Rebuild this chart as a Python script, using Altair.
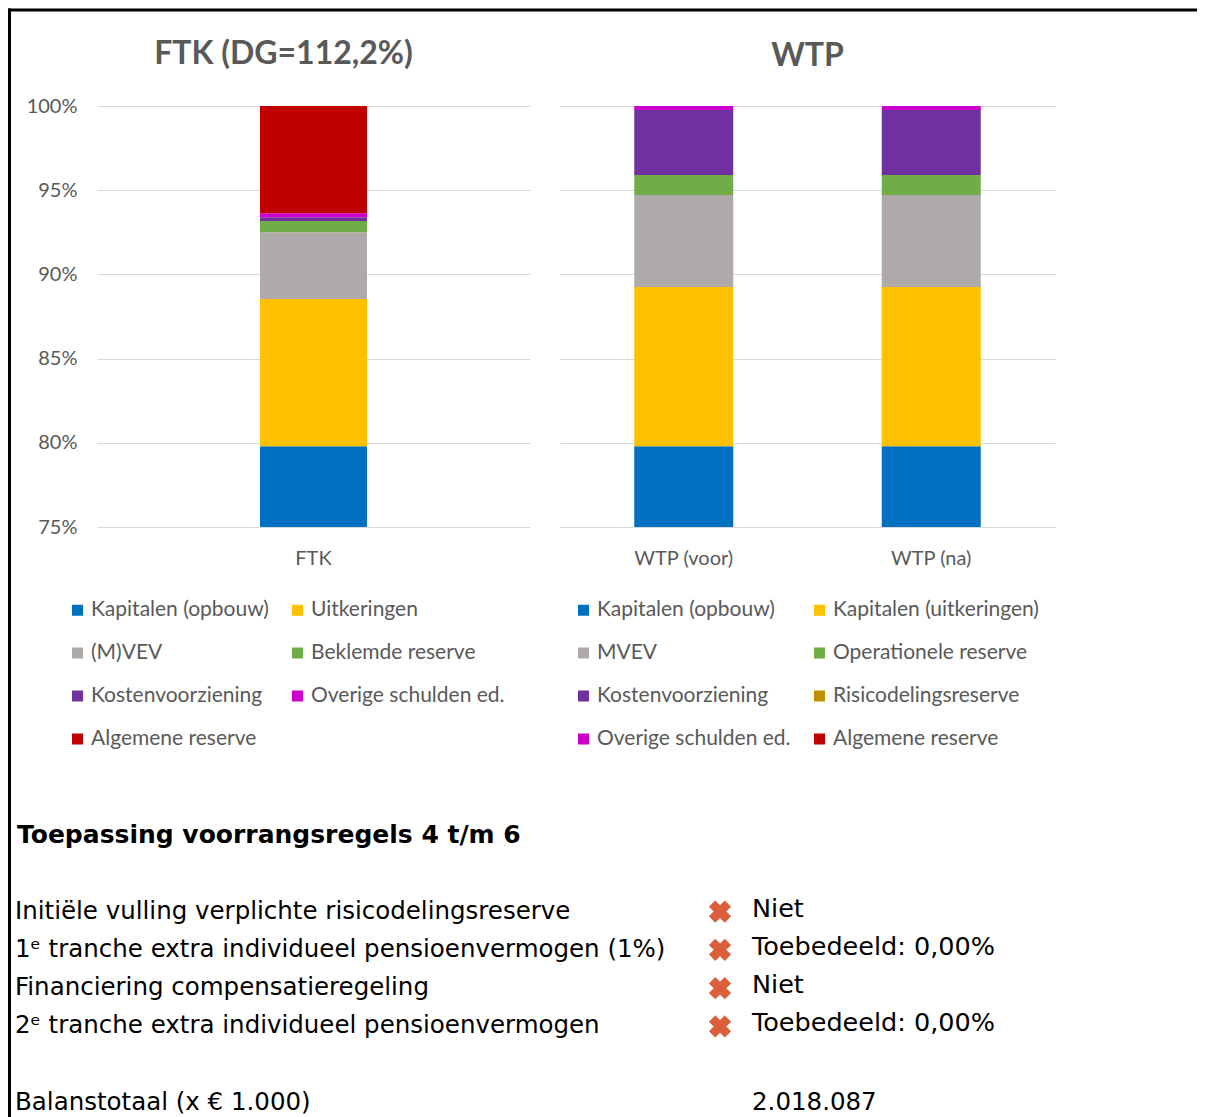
import altair as alt
import pandas as pd

# ---------------- data ----------------
ftk_categories = ["Kapitalen (opbouw)", "Uitkeringen", "(M)VEV", "Beklemde reserve",
                  "Kostenvoorziening", "Overige schulden ed.", "Algemene reserve"]
ftk_values = [79.8, 8.74, 3.96, 0.67, 0.22, 0.24, 6.37]
ftk_colors = ["#0070C0", "#FFC000", "#AEAAAA", "#70AD47", "#7030A0", "#CC00CC", "#C00000"]

wtp_categories = ["Kapitalen (opbouw)", "Kapitalen (uitkeringen)", "MVEV", "Operationele reserve",
                  "Kostenvoorziening", "Risicodelingsreserve", "Overige schulden ed.", "Algemene reserve"]
wtp_voor_values = [79.8, 9.45, 5.46, 1.19, 3.86, 0.0, 0.24, 0.0]
wtp_na_values = [79.8, 9.45, 5.46, 1.19, 3.86, 0.0, 0.24, 0.0]
wtp_colors = ["#0070C0", "#FFC000", "#AEAAAA", "#70AD47", "#7030A0", "#BF9000", "#CC00CC", "#C00000"]

ftk_bars = ["FTK"]
wtp_bars = ["WTP (voor)", "WTP (na)"]
y_ticks = [75, 80, 85, 90, 95, 100]

heading = "Toepassing voorrangsregels 4 t/m 6"
rule_labels = ["Initiële vulling verplichte risicodelingsreserve",
               "1ᵉ tranche extra individueel pensioenvermogen (1%)",
               "Financiering compensatieregeling",
               "2ᵉ tranche extra individueel pensioenvermogen"]
rule_status = ["Niet", "Toebedeeld: 0,00%", "Niet", "Toebedeeld: 0,00%"]
total_label = "Balanstotaal (x € 1.000)"
total_value = "2.018.087"

# ---------------- tables ----------------
ftk_df = pd.DataFrame({"bar": "FTK", "cat": ftk_categories, "value": ftk_values,
                       "idx": list(range(len(ftk_categories)))})
wtp_rows = []
for bar, vals in zip(wtp_bars, [wtp_voor_values, wtp_na_values]):
    for i, (c, v) in enumerate(zip(wtp_categories, vals)):
        wtp_rows.append({"bar": bar, "cat": c, "value": v, "idx": i})
wtp_df = pd.DataFrame(wtp_rows)

GRID = "#D9D9D9"
LABEL = "#595959"
FONT = "Lato"
TFONT = "DejaVu Sans"
TSIZE = 24.5


def panel(df, cats, colors, bars, title, width, bar_size, legend_x, show_labels, t_offset, t_dx):
    if show_labels:
        yaxis = alt.Axis(title=None, values=y_ticks, labelExpr="datum.value + '%'", ticks=False,
                         domain=False, grid=True, gridColor=GRID, labelPadding=20,
                         labelFontSize=20, labelColor=LABEL, labelFont=FONT)
    else:
        yaxis = alt.Axis(title=None, values=y_ticks, labels=False, ticks=False, domain=False,
                         grid=True, gridColor=GRID)
    return alt.Chart(df).mark_bar(size=bar_size, clip=True).encode(
        x=alt.X("bar:N", sort=bars, scale=alt.Scale(paddingInner=0, paddingOuter=0),
                axis=alt.Axis(title=None, labelAngle=0, ticks=False, domain=False, labelPadding=21,
                              labelFontSize=20, labelColor=LABEL, labelFont=FONT)),
        y=alt.Y("value:Q", stack="zero", scale=alt.Scale(domain=[75, 100], nice=False, zero=False),
                axis=yaxis),
        color=alt.Color("cat:N", scale=alt.Scale(domain=cats, range=colors),
                        legend=alt.Legend(title=None, orient="none", legendX=legend_x, legendY=493.5,
                                          columns=2, direction="horizontal", symbolType="square",
                                          symbolSize=121, symbolStrokeWidth=0, labelFontSize=21,
                                          labelColor=LABEL, labelFont=FONT, rowPadding=21,
                                          columnPadding=18, labelOffset=3, padding=0,
                                          labelLimit=400)),
        order=alt.Order("idx:Q", sort="ascending"),
    ).properties(
        width=width, height=421,
        title=alt.TitleParams(title, fontSize=32, font=FONT, fontWeight="bold", color=LABEL,
                              anchor="middle", offset=t_offset, dx=t_dx),
    )


left = panel(ftk_df, ftk_categories, ftk_colors, ftk_bars, "FTK (DG=112,2%)", 433, 107, -30, True, 25.5, -30)
right = panel(wtp_df, wtp_categories, wtp_colors, wtp_bars, "WTP", 495, 99, 13, False, 33.5, 0)

# ---------------- text panel ----------------
rows_df = pd.DataFrame({"row": [i + 2 for i in range(len(rule_labels))],
                        "label": rule_labels, "status": rule_status})
head_df = pd.DataFrame({"row": [0], "label": [heading]})
total_df = pd.DataFrame({"row": [len(rule_labels) + 3], "label": [total_label], "status": [total_value]})

yrow = alt.Y("row:Q", scale=alt.Scale(domain=[0, 7], reverse=True), axis=None)

head_txt = alt.Chart(head_df).mark_text(align="left", baseline="middle", font=TFONT,
                                        fontSize=25, fontWeight="bold", color="black").encode(
    x=alt.value(-80), y=yrow, text="label:N")
lab_txt = alt.Chart(rows_df).mark_text(align="left", baseline="middle", font=TFONT,
                                       fontSize=TSIZE, color="black").encode(
    x=alt.value(-82), y=yrow, text="label:N")
stat_txt = alt.Chart(rows_df).mark_text(align="left", baseline="middle", font=TFONT,
                                        fontSize=25.5, color="black", dy=-3).encode(
    x=alt.value(655), y=yrow, text="status:N")
marks = alt.Chart(rows_df).mark_point(shape="cross", filled=True, size=500, angle=45,
                                      color="#DC5F3C", opacity=1).encode(
    x=alt.value(623), y=yrow)
tot_lab = alt.Chart(total_df).mark_text(align="left", baseline="middle", font=TFONT,
                                        fontSize=TSIZE, color="black").encode(
    x=alt.value(-82), y=yrow, text="label:N")
tot_val = alt.Chart(total_df).mark_text(align="left", baseline="middle", font=TFONT,
                                        fontSize=TSIZE, color="black").encode(
    x=alt.value(655), y=yrow, text="status:N")

frame_df = pd.DataFrame({"k": [0]})
top_line = alt.Chart(frame_df).mark_rule(color="black", strokeWidth=3).encode(
    x=alt.value(-89), x2=alt.value(1120), y=alt.value(-825))
left_line = alt.Chart(frame_df).mark_rule(color="black", strokeWidth=3).encode(
    x=alt.value(-87.5), y=alt.value(-826.5), y2=alt.value(300))

text_panel = alt.layer(top_line, left_line, head_txt, lab_txt, stat_txt, marks, tot_lab, tot_val).properties(
    width=433, height=268)

chart = alt.concat(left, right, text_panel, columns=2,
                   spacing={"row": 308, "column": 30}, bounds="flush",
                   padding={"left": 89, "top": 98, "right": 1100, "bottom": 1011},
                   autosize=alt.AutoSizeParams(type="none"),
                   ).resolve_scale(color="independent").configure_view(stroke=None)

chart.save("out.html", embed_options={"renderer": "svg", "actions": False})
